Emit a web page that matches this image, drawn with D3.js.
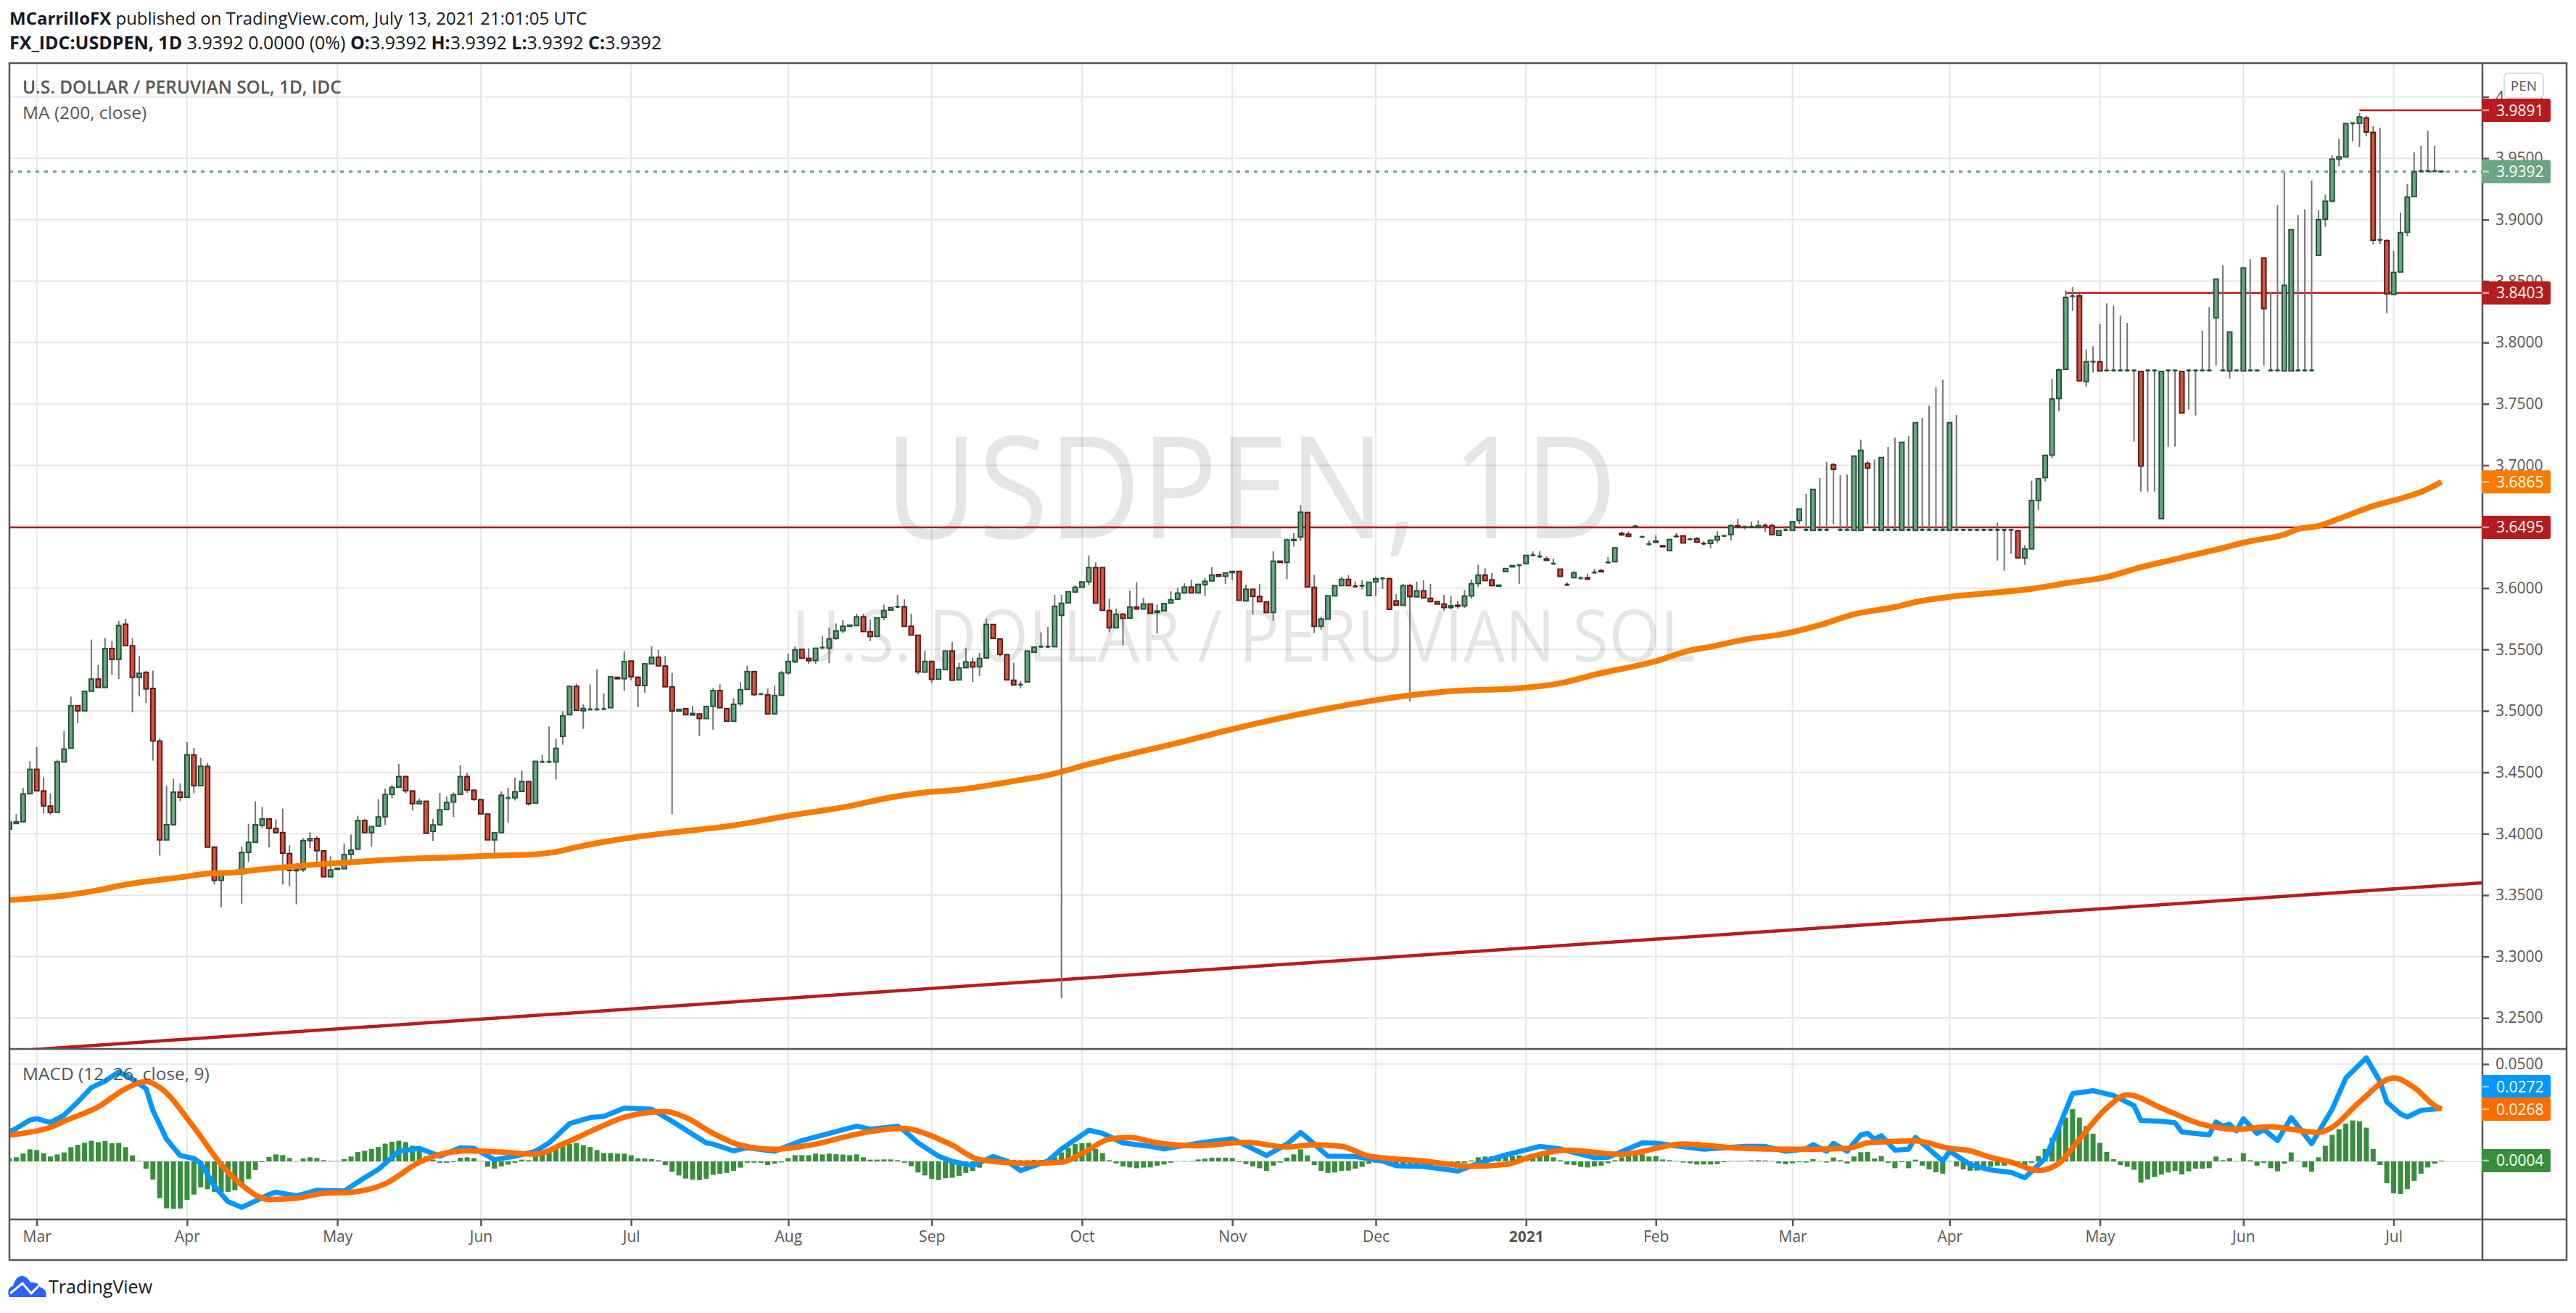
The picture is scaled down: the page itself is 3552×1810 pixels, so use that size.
<!DOCTYPE html>
<html>
<head>
<meta charset="utf-8">
<style>
  body { margin: 0; background: #fff; }
  text { font-family: "Open Sans", sans-serif; }
</style>
<script src="https://cdnjs.cloudflare.com/ajax/libs/d3/7.8.5/d3.min.js"></script>
</head>
<body>
<svg id="chart"></svg>
<script>
// daily bars
let opens = [
3.4038,3.4083,3.4097,3.4326,3.4524,3.4348,3.4225,3.4174,3.4585,3.4697,
3.5042,3.5001,3.5161,3.5259,3.5191,3.5508,3.5420,3.5706,3.5530,3.5273,
3.5314,3.5183,3.4754,3.3950,3.4073,3.4338,3.4297,3.4642,3.4391,3.4548,
3.3891,3.3620,3.3689,3.3680,3.3674,3.3848,3.3930,3.4068,3.4120,3.4042,
3.4009,3.3838,3.3699,3.3709,3.3944,3.3960,3.3860,3.3650,3.3711,3.3715,
3.3832,3.3874,3.4107,3.4009,3.4062,3.4138,3.4320,3.4379,3.4465,3.4348,
3.4244,3.4264,3.4019,3.4073,3.4197,3.4258,3.4320,3.4465,3.4354,3.4277,
3.4160,3.3950,3.4009,3.4285,3.4293,3.4344,3.4424,3.4250,3.4580,3.4580,
3.4585,3.4793,3.4969,3.5200,3.5001,3.5008,3.5008,3.5012,3.5026,3.5273,
3.5262,3.5406,3.5273,3.5207,3.5383,3.5436,3.5365,3.5195,3.4999,3.5018,
3.4967,3.4975,3.4938,3.5038,3.5165,3.5019,3.4916,3.5058,3.5176,3.5320,
3.5131,3.5131,3.4976,3.5127,3.5310,3.5400,3.5500,3.5427,3.5411,3.5511,
3.5511,3.5590,3.5653,3.5689,3.5695,3.5766,3.5645,3.5608,3.5762,3.5821,
3.5842,3.5848,3.5689,3.5616,3.5316,3.5403,3.5259,3.5336,3.5488,3.5253,
3.5352,3.5397,3.5360,3.5431,3.5704,3.5586,3.5458,3.5250,3.5208,3.5236,
3.5478,3.5520,3.5520,3.5523,3.5778,3.5880,3.5968,3.6008,3.6051,3.6167,
3.6167,3.5817,3.5677,3.5787,3.5756,3.5846,3.5830,3.5870,3.5801,3.5815,
3.5878,3.5910,3.5961,3.6008,3.5961,3.6028,3.6059,3.6110,3.6096,3.6126,
3.6136,3.5896,3.5990,3.5931,3.5888,3.5801,3.6219,3.6209,3.6388,3.6416,
3.6615,3.6006,3.5689,3.5748,3.5937,3.6020,3.6071,3.6020,3.6015,3.5939,
3.6051,3.6075,3.6077,3.5896,3.5860,3.6020,3.5929,3.5978,3.5917,3.5890,
3.5870,3.5842,3.5860,3.5856,3.5937,3.6037,3.6106,3.6067,3.6016,3.6134,
3.6173,3.6181,3.6199,3.6262,3.6252,3.6238,3.6195,3.6154,3.6031,3.6085,
3.6077,3.6085,3.6123,3.6141,3.6205,3.6215,3.6445,3.6439,3.6497,3.6413,
3.6354,3.6372,3.6345,3.6305,3.6427,3.6425,3.6394,3.6402,3.6368,3.6364,
3.6392,3.6421,3.6435,3.6508,3.6495,3.6495,3.6494,3.6512,3.6508,3.6429,
3.6469,3.6470,3.6551,3.6470,3.6470,3.6470,3.6470,3.7004,3.6470,3.6470,
3.6470,3.6470,3.7016,3.6470,3.6470,3.6470,3.6470,3.6470,3.6470,3.6470,
3.6470,3.6470,3.6470,3.6470,3.6470,3.6470,3.6470,3.6470,3.6470,3.6470,
3.6470,3.6470,3.6470,3.6470,3.6467,3.6246,3.6319,3.6713,3.6900,3.7083,
3.7544,3.7782,3.8371,3.8379,3.7682,3.7839,3.7843,3.7768,3.7768,3.7768,
3.7768,3.7768,3.7764,3.7768,3.7768,3.6565,3.7768,3.7768,3.7764,3.7768,
3.7768,3.7768,3.7768,3.8200,3.7768,3.7768,3.7768,3.7768,3.7768,3.7768,
3.8688,3.7768,3.7768,3.7768,3.7768,3.7768,3.7768,3.7768,3.8710,3.9003,
3.9150,3.9493,3.9511,3.9780,3.9785,3.9828,3.9710,3.8831,3.8829,3.8390,
3.8574,3.8898,3.9188,3.9389,3.9389,3.9389,3.9392]

let highs = [
3.4093,3.4158,3.4372,3.4589,3.4705,3.4460,3.4328,3.4603,3.4834,3.5116,
3.5042,3.5159,3.5581,3.5375,3.5593,3.5569,3.5734,3.5751,3.5593,3.5446,
3.5326,3.5328,3.4775,3.4391,3.4450,3.4410,3.4746,3.4699,3.4616,3.4577,
3.3891,3.3700,3.3689,3.3695,3.3897,3.4081,3.4264,3.4220,3.4120,3.4117,
3.4205,3.3905,3.3764,3.3964,3.4011,3.3980,3.3860,3.3817,3.3725,3.3920,
3.3993,3.4146,3.4120,3.4058,3.4281,3.4367,3.4397,3.4567,3.4473,3.4348,
3.4287,3.4264,3.4120,3.4332,3.4303,3.4336,3.4558,3.4493,3.4362,3.4277,
3.4160,3.4007,3.4344,3.4375,3.4458,3.4514,3.4424,3.4589,3.4642,3.4873,
3.4773,3.4999,3.5200,3.5220,3.5054,3.5216,3.5338,3.5142,3.5285,3.5273,
3.5487,3.5406,3.5283,3.5391,3.5528,3.5498,3.5446,3.5310,3.5013,3.5018,
3.5040,3.4975,3.5036,3.5187,3.5216,3.5019,3.5104,3.5236,3.5368,3.5320,
3.5137,3.5182,3.5206,3.5325,3.5466,3.5525,3.5505,3.5511,3.5515,3.5610,
3.5679,3.5712,3.5738,3.5698,3.5791,3.5791,3.5744,3.5758,3.5866,3.5841,
3.5945,3.5909,3.5791,3.5616,3.5492,3.5403,3.5338,3.5488,3.5560,3.5393,
3.5511,3.5433,3.5472,3.5752,3.5704,3.5586,3.5458,3.5393,3.5245,3.5488,
3.5519,3.5639,3.5685,3.5945,3.5945,3.5970,3.6024,3.6050,3.6266,3.6210,
3.6167,3.5915,3.5833,3.5797,3.5980,3.6047,3.5921,3.5870,3.5866,3.5874,
3.5974,3.6004,3.6040,3.6067,3.6030,3.6083,3.6171,3.6110,3.6124,3.6136,
3.6136,3.6028,3.5990,3.6033,3.5888,3.6300,3.6219,3.6404,3.6447,3.6674,
3.6615,3.6108,3.5768,3.5937,3.6020,3.6093,3.6106,3.6053,3.6063,3.6047,
3.6093,3.6087,3.6077,3.5950,3.6034,3.6034,3.6053,3.6063,3.6033,3.5890,
3.5945,3.5935,3.5895,3.5984,3.6069,3.6190,3.6161,3.6122,3.6024,3.6159,
3.6183,3.6187,3.6266,3.6299,3.6299,3.6260,3.6240,3.6154,3.6049,3.6138,
3.6095,3.6116,3.6157,3.6157,3.6254,3.6335,3.6461,3.6461,3.6512,3.6417,
3.6388,3.6431,3.6351,3.6396,3.6447,3.6425,3.6398,3.6417,3.6381,3.6390,
3.6463,3.6425,3.6520,3.6565,3.6499,3.6541,3.6551,3.6525,3.6525,3.6467,
3.6506,3.6541,3.6644,3.6766,3.6803,3.6896,3.7028,3.7020,3.6919,3.6925,
3.7075,3.7209,3.7037,3.7047,3.7063,3.7150,3.7225,3.7187,3.7238,3.7347,
3.7386,3.7486,3.7634,3.7697,3.7347,3.7410,3.6474,3.6474,3.6474,3.6474,
3.6474,3.6535,3.6474,3.6474,3.6467,3.6350,3.6874,3.6890,3.7081,3.7703,
3.7787,3.8422,3.8450,3.8397,3.7943,3.7969,3.8150,3.8318,3.8300,3.8219,
3.8160,3.7772,3.7764,3.7772,3.7772,3.7764,3.7772,3.7772,3.7764,3.7772,
3.7772,3.8095,3.8288,3.8516,3.8627,3.8085,3.7772,3.8607,3.8678,3.7772,
3.8688,3.8410,3.9117,3.9387,3.8918,3.9040,3.9085,3.9318,3.9076,3.9204,
3.9523,3.9660,3.9782,3.9785,3.9867,3.9848,3.9760,3.9749,3.8841,3.8747,
3.9056,3.9288,3.9548,3.9601,3.9725,3.9601,3.9395]

let lows = [
3.4038,3.4079,3.4097,3.4326,3.4350,3.4166,3.4152,3.4174,3.4585,3.4697,
3.4901,3.5001,3.5161,3.5191,3.5191,3.5295,3.5259,3.5532,3.4989,3.5118,
3.5065,3.4595,3.3822,3.3950,3.4073,3.4264,3.4297,3.4328,3.4391,3.3891,
3.3587,3.3401,3.3682,3.3672,3.3430,3.3770,3.3930,3.4046,3.3889,3.4009,
3.3587,3.3572,3.3425,3.3689,3.3881,3.3734,3.3650,3.3650,3.3705,3.3715,
3.3770,3.3874,3.4009,3.3895,3.4062,3.4070,3.4289,3.4379,3.4330,3.4189,
3.4244,3.4003,3.3942,3.4073,3.4197,3.4136,3.4320,3.4332,3.4266,3.4162,
3.3950,3.3807,3.4009,3.4089,3.4271,3.4344,3.4230,3.4250,3.4580,3.4580,
3.4442,3.4724,3.4969,3.5005,3.4854,3.5008,3.5008,3.5012,3.5026,3.5262,
3.5165,3.5248,3.5030,3.5148,3.5383,3.5367,3.5197,3.4160,3.4999,3.4969,
3.4967,3.4795,3.4938,3.4848,3.5026,3.4916,3.4916,3.5039,3.5176,3.5121,
3.5131,3.4976,3.4976,3.5127,3.5295,3.5389,3.5429,3.5383,3.5383,3.5511,
3.5390,3.5580,3.5634,3.5689,3.5695,3.5647,3.5567,3.5608,3.5738,3.5821,
3.5842,3.5689,3.5618,3.5298,3.5316,3.5226,3.5259,3.5336,3.5250,3.5253,
3.5352,3.5236,3.5285,3.5431,3.5590,3.5442,3.5253,3.5212,3.5182,3.5236,
3.5478,3.5520,3.5520,3.5523,3.2663,3.5880,3.5968,3.6008,3.6023,3.5878,
3.5819,3.5640,3.5677,3.5537,3.5756,3.5830,3.5830,3.5795,3.5630,3.5815,
3.5878,3.5910,3.5961,3.5961,3.5961,3.5935,3.6059,3.6096,3.6034,3.6063,
3.5901,3.5896,3.5787,3.5890,3.5801,3.5734,3.6209,3.6073,3.6339,3.6384,
3.6010,3.5634,3.5660,3.5748,3.5937,3.6020,3.6020,3.6014,3.5990,3.5939,
3.5935,3.5994,3.5827,3.5862,3.5860,3.5078,3.5929,3.5921,3.5890,3.5870,
3.5817,3.5827,3.5832,3.5837,3.5915,3.6010,3.6061,3.6020,3.6016,3.6134,
3.6173,3.6035,3.6199,3.6262,3.6245,3.6226,3.6195,3.6096,3.6027,3.6085,
3.6077,3.6073,3.6123,3.6133,3.6205,3.6215,3.6433,3.6421,3.6497,3.6413,
3.6346,3.6368,3.6337,3.6305,3.6421,3.6368,3.6394,3.6368,3.6362,3.6325,
3.6368,3.6421,3.6388,3.6500,3.6477,3.6495,3.6486,3.6457,3.6435,3.6429,
3.6469,3.6470,3.6520,3.6465,3.6470,3.6470,3.6470,3.6520,3.6470,3.6470,
3.6470,3.6470,3.6520,3.6470,3.6470,3.6470,3.6470,3.6470,3.6470,3.6470,
3.6470,3.6470,3.6470,3.6470,3.6470,3.6470,3.6470,3.6470,3.6470,3.6470,
3.6470,3.6224,3.6142,3.6280,3.6246,3.6189,3.6319,3.6638,3.6868,3.7057,
3.7441,3.7782,3.8257,3.7688,3.7642,3.7756,3.7768,3.7768,3.7768,3.7768,
3.7768,3.7193,3.6786,3.6786,3.6786,3.6565,3.7152,3.7152,3.7426,3.7453,
3.7406,3.7768,3.7768,3.7812,3.7768,3.7707,3.7768,3.7768,3.7768,3.7768,
3.7812,3.7768,3.7768,3.7768,3.7768,3.7768,3.7768,3.7768,3.8710,3.8942,
3.9150,3.9436,3.9511,3.9637,3.9591,3.9680,3.8800,3.8800,3.8239,3.8390,
3.8574,3.8865,3.9188,3.9389,3.9389,3.9389,3.9392]

let closes = [
3.4093,3.4097,3.4324,3.4524,3.4350,3.4227,3.4174,3.4585,3.4689,3.5042,
3.5001,3.5159,3.5259,3.5191,3.5508,3.5420,3.5695,3.5532,3.5273,3.5306,
3.5179,3.4756,3.3950,3.4073,3.4338,3.4297,3.4642,3.4391,3.4550,3.3891,
3.3620,3.3689,3.3682,3.3672,3.3848,3.3930,3.4073,3.4120,3.4044,3.4009,
3.3842,3.3701,3.3710,3.3944,3.3960,3.3862,3.3650,3.3705,3.3719,3.3830,
3.3866,3.4107,3.4009,3.4058,3.4136,3.4319,3.4377,3.4465,3.4350,3.4244,
3.4264,3.4003,3.4071,3.4195,3.4254,3.4317,3.4465,3.4356,3.4280,3.4162,
3.3950,3.4007,3.4313,3.4291,3.4342,3.4424,3.4244,3.4589,3.4585,3.4585,
3.4695,3.4960,3.5200,3.5005,3.5020,3.5012,3.5012,3.5016,3.5277,3.5262,
3.5402,3.5279,3.5207,3.5383,3.5436,3.5367,3.5197,3.4999,3.5013,3.4969,
3.4979,3.4938,3.5036,3.5165,3.5026,3.4916,3.5054,3.5173,3.5320,3.5133,
3.5137,3.4976,3.5125,3.5309,3.5403,3.5498,3.5429,3.5409,3.5510,3.5515,
3.5586,3.5651,3.5689,3.5698,3.5766,3.5647,3.5606,3.5758,3.5817,3.5841,
3.5848,3.5689,3.5618,3.5318,3.5403,3.5257,3.5338,3.5488,3.5250,3.5350,
3.5399,3.5358,3.5427,3.5704,3.5590,3.5460,3.5253,3.5212,3.5214,3.5488,
3.5519,3.5523,3.5523,3.5852,3.5876,3.5970,3.6006,3.6050,3.6167,3.5878,
3.5819,3.5677,3.5787,3.5754,3.5846,3.5830,3.5870,3.5795,3.5813,3.5874,
3.5905,3.5959,3.6008,3.5961,3.6030,3.6055,3.6106,3.6096,3.6124,3.6136,
3.5901,3.5990,3.5933,3.5890,3.5801,3.6219,3.6209,3.6392,3.6396,3.6617,
3.6010,3.5689,3.5748,3.5937,3.6020,3.6071,3.6020,3.6014,3.6019,3.6047,
3.6075,3.6079,3.5827,3.5862,3.6020,3.5931,3.5978,3.5921,3.5890,3.5870,
3.5842,3.5856,3.5852,3.5935,3.6035,3.6106,3.6061,3.6020,3.6024,3.6159,
3.6183,3.6187,3.6266,3.6268,3.6258,3.6226,3.6199,3.6096,3.6027,3.6124,
3.6081,3.6073,3.6127,3.6133,3.6209,3.6327,3.6433,3.6421,3.6503,3.6417,
3.6358,3.6384,3.6337,3.6396,3.6421,3.6368,3.6398,3.6374,3.6362,3.6390,
3.6420,3.6425,3.6508,3.6500,3.6499,3.6499,3.6508,3.6508,3.6435,3.6467,
3.6473,3.6541,3.6644,3.6474,3.6803,3.6474,3.6474,3.6967,3.6474,3.6474,
3.7075,3.7122,3.6977,3.6474,3.7063,3.6474,3.6474,3.7187,3.6474,3.7347,
3.6474,3.6474,3.6474,3.6474,3.7347,3.6474,3.6474,3.6474,3.6474,3.6474,
3.6474,3.6474,3.6474,3.6474,3.6246,3.6319,3.6713,3.6890,3.7081,3.7540,
3.7776,3.8367,3.8377,3.7688,3.7843,3.7843,3.7768,3.7772,3.7772,3.7772,
3.7772,3.7772,3.6994,3.7772,3.7772,3.7764,3.7772,3.7772,3.7426,3.7772,
3.7772,3.7772,3.7772,3.8516,3.7772,3.8085,3.7772,3.8607,3.7772,3.7772,
3.8276,3.7772,3.7772,3.8465,3.8918,3.7772,3.7772,3.7772,3.9000,3.9150,
3.9493,3.9511,3.9782,3.9785,3.9836,3.9714,3.8833,3.8835,3.8396,3.8570,
3.8894,3.9184,3.9391,3.9395,3.9395,3.9395,3.9392]

// moving average, sampled along the line
let maBars = [0,5,9,13,17,21,25,29,33,37,41,45,49,54,60,64,69,76,80,83,90,97,105,115,122,129,133,139,148,152,158,166,172,179,186,193,200,205,211,221,227,232,241,246,249,254,260,265,270,276,279,284,290,296,301,307,312,317,322,328,333,335,338,341,346,350,353,356]
let maValues = [3.346,3.348,3.3504,3.354,3.3586,3.3618,3.3645,3.3675,3.3685,3.3711,3.373,3.375,3.3764,3.3783,3.3799,3.3805,3.3819,3.3829,3.3852,3.389,3.396,3.401,3.406,3.4155,3.4215,3.4296,3.433,3.4359,3.4438,3.4477,3.4566,3.4674,3.4753,3.4851,3.494,3.5019,3.5088,3.5127,3.5161,3.5185,3.5225,3.5295,3.5405,3.5492,3.5522,3.5581,3.563,3.5699,3.5787,3.5846,3.5886,3.5929,3.596,3.5994,3.604,3.609,3.617,3.6235,3.630,3.6382,3.6437,3.648,3.6506,3.6565,3.6668,3.6729,3.6782,3.6865]

let macdBars = [0,1,3,4,6,8,10,12,14,16,18,20,21,23,25,27,28,30,32,34,35,38,39,42,45,49,52,54,57,60,63,66,68,71,74,77,79,82,85,87,90,94,97,102,103,106,108,112,116,120,124,126,130,131,133,136,138,141,144,146,148,152,154,158,160,163,167,169,175,179,184,187,189,190,193,197,201,203,207,212,215,219,224,227,232,234,239,241,248,254,257,260,263,264,266,267,269,271,272,273,274,276,278,279,283,284,287,290,293,295,298,300,302,305,308,311,312,315,317,318,322,323,324,325,326,327,329,330,332,334,337,340,342,345,347,348,350,351,353,356]
let macdValues = [.0151,.0169,.0212,.0219,.0200,.0237,.0305,.0379,.0412,.0459,.0422,.0373,.0262,.0114,.0030,.0015,-.0010,-.0127,-.0207,-.0236,-.0220,-.0170,-.0158,-.0177,-.0148,-.0152,-.0084,-.0041,.0052,.0067,.0027,.0070,.0067,.0009,.0027,.0052,.0095,.0194,.0225,.0231,.0274,.0268,.0206,.0095,.0089,.0054,.0070,.0052,.0107,.0144,.0181,.0165,.0181,.0157,.0095,.0027,0,-.0022,.0025,.0002,-.0047,.0002,.0064,.0160,.0144,.0095,.0077,.0064,.0099,.0116,.0030,.0089,.0148,.0120,.0027,.0025,.0002,-.0022,-.0026,-.0049,-.0010,.0033,.0077,.0064,.0019,.0021,.0095,.0093,.0062,.0077,.0077,.0052,.0064,.0086,.0052,.0093,.0052,.0136,.0144,.0114,.0132,.0058,.0062,.0123,.0002,.0052,-.0016,-.0044,-.0057,-.0084,.0015,.0175,.0348,.0363,.0338,.0286,.0210,.0206,.0198,.0151,.0136,.0202,.0181,.0190,.0157,.0219,.0144,.0163,.0107,.0225,.0091,.0268,.0428,.0531,.0410,.0305,.0243,.0228,.0262,.0272]

let signalBars = [0,2,6,8,13,17,20,22,27,31,34,38,42,46,50,55,60,63,67,72,77,81,86,90,96,99,103,107,112,118,123,126,131,134,138,142,149,154,157,161,164,168,174,181,187,191,195,199,207,214,219,223,228,236,245,253,261,269,272,275,279,284,287,290,293,297,300,303,307,310,315,321,326,331,334,338,340,344,349,352,355,356]
let signalValues = [.0135,.0144,.0175,.0206,.0280,.0373,.0410,.0379,.0175,-.0016,-.0121,-.0195,-.0189,-.0164,-.0158,-.0115,-.0004,.0036,.0054,.0048,.0037,.0089,.0169,.0227,.0256,.0225,.0144,.0083,.0062,.0089,.0132,.0153,.0169,.0144,.0083,.0009,-.0010,-.0004,.0040,.0114,.0123,.0095,.0080,.0098,.0074,.0085,.0077,.0027,.0002,-.0025,-.0016,.0027,.0058,.0036,.0089,.0068,.0062,.0067,.0095,.0101,.0105,.0067,.0054,.0021,-.0004,-.0047,-.0010,.0114,.0274,.0342,.0274,.0190,.0165,.0178,.0165,.0148,.0175,.0305,.0428,.0379,.0286,.0268]

let histogram = [
.0015,.0021,.0040,.0062,.0058,.0042,.0025,.0036,.0046,.0073,
.0085,.0095,.0106,.0099,.0105,.0093,.0095,.0073,.0031,.0002,
-.0038,-.0093,-.0189,-.0241,-.0244,-.0242,-.0198,-.0170,-.0133,-.0143,
-.0156,-.0158,-.0156,-.0148,-.0127,-.0090,-.0044,-.0004,.0023,.0036,
.0032,.0017,.0002,.0015,.0021,.0017,.0006,.0002,.0002,.0012,
.0025,.0048,.0054,.0064,.0074,.0091,.0101,.0106,.0099,.0080,
.0062,.0027,.0009,-.0007,-.0007,-.0004,.0019,.0021,.0017,.0002,
-.0028,-.0037,-.0026,-.0017,-.0007,.0009,.0006,.0027,.0033,.0052,
.0062,.0077,.0089,.0095,.0083,.0074,.0058,.0043,.0043,.0040,
.0040,.0031,.0016,.0015,.0012,.0006,-.0019,-.0053,-.0072,-.0088,
-.0094,-.0096,-.0090,-.0069,-.0064,-.0059,-.0049,-.0032,-.0007,-.0007,
-.0007,-.0019,-.0012,-.0005,.0017,.0032,.0032,.0032,.0040,.0036,
.0040,.0037,.0035,.0032,.0036,.0021,.0009,.0009,.0010,.0010,
.0006,-.0007,-.0025,-.0057,-.0072,-.0090,-.0096,-.0086,-.0084,-.0074,
-.0059,-.0049,-.0032,-.0007,-.0004,.0002,.0007,.0007,.0006,.0006,
.0007,.0007,.0010,.0021,.0046,.0070,.0089,.0093,.0095,.0064,
.0043,.0006,-.0010,-.0026,-.0031,-.0035,-.0032,-.0031,-.0022,-.0016,
-.0007,.0001,.0002,.0002,.0010,.0014,.0019,.0019,.0019,.0017,
-.0004,-.0014,-.0026,-.0035,-.0049,-.0022,-.0006,.0019,.0036,.0062,
.0031,-.0019,-.0049,-.0059,-.0057,-.0049,-.0047,-.0037,-.0028,-.0012,
-.0007,.0002,-.0022,-.0025,-.0022,-.0020,-.0019,-.0022,-.0022,-.0019,
-.0010,-.0010,-.0010,-.0007,.0005,.0021,.0025,.0027,.0025,.0027,
.0027,.0031,.0027,.0037,.0033,.0040,.0021,.0006,-.0016,-.0019,
-.0028,-.0031,-.0026,-.0022,-.0010,.0006,.0021,.0033,.0033,.0036,
.0025,.0027,.0010,.0006,.0002,-.0006,-.0010,-.0016,-.0016,-.0016,
-.0014,-.0004,.0002,.0002,.0002,.0005,.0006,.0005,.0002,-.0010,
-.0015,-.0010,-.0004,-.0006,.0012,.0002,-.0006,.0020,.0006,-.0011,
.0025,.0047,.0049,.0015,.0027,-.0007,-.0035,-.0004,-.0035,.0009,
-.0022,-.0041,-.0056,-.0063,.0002,-.0026,-.0041,-.0048,-.0047,-.0035,
-.0028,-.0022,-.0022,.0002,-.0022,-.0020,-.0007,.0027,.0064,.0120,
.0169,.0225,.0268,.0225,.0181,.0142,.0095,.0049,.0012,-.0019,
-.0028,-.0043,-.0109,-.0093,-.0080,-.0068,-.0057,-.0049,-.0067,-.0051,
-.0037,-.0037,-.0035,.0025,.0006,.0017,.0002,.0042,.0006,-.0022,
-.0007,-.0035,-.0051,-.0012,.0046,.0002,-.0031,-.0053,.0021,.0080,
.0136,.0165,.0194,.0210,.0206,.0173,.0064,-.0019,-.0112,-.0164,
-.0168,-.0142,-.0100,-.0063,-.0031,-.0012,.0004]

// axis ticks
let monthBars = [4,26,48,69,91,114,135,157,179,200,222,241,261,284,306,327,349]
let monthLabels = ["Mar","Apr","May","Jun","Jul","Aug","Sep","Oct","Nov","Dec","2021","Feb","Mar","Apr","May","Jun","Jul"]
let priceTicks = [3.25,3.30,3.35,3.40,3.45,3.50,3.55,3.60,3.65,3.70,3.75,3.80,3.85,3.90,3.95,4.00]
let macdTicks = [0,0.05]

// drawn levels and the rising trend line
let levelValues = [3.6495,3.8403,3.9891]
let levelStartBars = [null,301,344]
let trendBars = [0,362]
let trendValues = [3.2229,3.36]
let lastPrice = 3.9392

// price tags on the right axis
let tagValues = [3.9891,3.9392,3.8403,3.6865,3.6495]
let tagColors = ["#b71c1c","#6ba583","#b71c1c","#f57c00","#b71c1c"]
let macdTagValues = [0.0272,0.0268,0.0004]
let macdTagColors = ["#0496ff","#ff6d00","#388e3c"]

function drawChart() {
    if (opens.length != 357 || highs.length != 357 || lows.length != 357 || closes.length != 357 || histogram.length != 357)
        throw new Error("bar counts " + [opens.length, highs.length, lows.length, closes.length, histogram.length])

    let width = 3552
    let height = 1810
    let left = 13
    let top = 87
    let axisX = 3423
    let outerRight = 3539
    let paneSplit = 1446
    let macdBottom = 1681
    let outerBottom = 1737
    let border = "#555555"
    let grid = "#e6e6e6"
    let textColor = "#555555"

    let chart = d3.select("#chart").attr("width", width).attr("height", height).style("display", "block")

    let xscale = d3.scaleLinear().domain([0, 356]).range([13, 3366.5])
    let yscale = d3.scaleLinear().domain([3.6, 3.9]).range([810.7, 302.8])
    let macdScale = d3.scaleLinear().domain([0, 0.05]).range([1601, 1466.7])

    chart.append("defs").append("clipPath").attr("id", "mainClip")
        .append("rect").attr("x", left).attr("y", top).attr("width", axisX - left).attr("height", paneSplit - top)
    chart.select("defs").append("clipPath").attr("id", "macdClip")
        .append("rect").attr("x", left).attr("y", paneSplit).attr("width", axisX - left).attr("height", macdBottom - paneSplit)

    // grid
    let gridG = chart.append("g")
    gridG.selectAll("line.v").data(monthBars).enter().append("line")
        .attr("x1", d => xscale(d)).attr("x2", d => xscale(d))
        .attr("y1", top).attr("y2", macdBottom)
        .attr("stroke", grid).attr("stroke-width", 2)
    gridG.selectAll("line.h").data(priceTicks).enter().append("line")
        .attr("x1", left).attr("x2", axisX)
        .attr("y1", d => yscale(d)).attr("y2", d => yscale(d))
        .attr("stroke", grid).attr("stroke-width", 2)
    gridG.selectAll("line.m").data(macdTicks).enter().append("line")
        .attr("x1", left).attr("x2", axisX)
        .attr("y1", d => macdScale(d)).attr("y2", d => macdScale(d))
        .attr("stroke", grid).attr("stroke-width", 2)

    // watermark
    chart.append("text").attr("x", 1220).attr("y", 742)
        .attr("textLength", 1010).attr("lengthAdjust", "spacingAndGlyphs")
        .style("font-size", "196px").style("fill", "rgba(0,0,0,0.1)").text("USDPEN, 1D")
    chart.append("text").attr("x", 1092).attr("y", 912)
        .attr("textLength", 1245).attr("lengthAdjust", "spacingAndGlyphs")
        .style("font-size", "98px").style("fill", "rgba(0,0,0,0.1)").text("U.S. DOLLAR / PERUVIAN SOL")

    let main = chart.append("g").attr("clip-path", "url(#mainClip)")
    let macd = chart.append("g").attr("clip-path", "url(#macdClip)")

    // levels behind the candles
    main.selectAll("line.level").data(levelValues).enter().append("line")
        .attr("x1", (d, i) => levelStartBars[i] == null ? left : xscale(levelStartBars[i]))
        .attr("x2", axisX)
        .attr("y1", d => yscale(d)).attr("y2", d => yscale(d))
        .attr("stroke", "#b71c1c").attr("stroke-width", 2.5)
    main.append("line")
        .attr("x1", left).attr("x2", axisX)
        .attr("y1", yscale(lastPrice)).attr("y2", yscale(lastPrice))
        .attr("stroke", "#6ba583").attr("stroke-width", 3).attr("stroke-dasharray", "5 7")
    main.append("line")
        .attr("x1", xscale(trendBars[0])).attr("x2", xscale(trendBars[1]))
        .attr("y1", yscale(trendValues[0])).attr("y2", yscale(trendValues[1]))
        .attr("stroke", "#b71c1c").attr("stroke-width", 4.5)

    // candles
    let bars = d3.range(opens.length)
    let upColor = d => closes[d] >= opens[d]
    let bodyHeight = d => Math.abs(yscale(opens[d]) - yscale(closes[d]))
    main.selectAll("line.wick").data(bars).enter().append("line")
        .attr("x1", d => xscale(d)).attr("x2", d => xscale(d))
        .attr("y1", d => yscale(highs[d])).attr("y2", d => yscale(lows[d]))
        .attr("stroke", "#737375").attr("stroke-width", 2)
    main.selectAll("rect.body").data(bars.filter(d => bodyHeight(d) >= 1.1)).enter().append("rect")
        .attr("x", d => xscale(d) - 3)
        .attr("width", 6)
        .attr("y", d => yscale(Math.max(opens[d], closes[d])))
        .attr("height", bodyHeight)
        .attr("fill", d => upColor(d) ? "#6ba583" : "#d75442")
        .attr("stroke", d => upColor(d) ? "#225437" : "#5b1a13")
        .attr("stroke-width", 2)
    // flat days: a thin dash with a small dark centre
    let flat = bars.filter(d => bodyHeight(d) < 1.1)
    main.selectAll("rect.dash").data(flat).enter().append("rect")
        .attr("x", d => xscale(d) - 4)
        .attr("width", 8)
        .attr("y", d => yscale(closes[d]) - 0.5)
        .attr("height", 1)
        .attr("fill", d => upColor(d) ? "#225437" : "#5b1a13")
    main.selectAll("rect.dot").data(flat).enter().append("rect")
        .attr("x", d => xscale(d) - 2.5)
        .attr("width", 5)
        .attr("y", d => yscale(closes[d]) - 1.5)
        .attr("height", 3)
        .attr("fill", d => upColor(d) ? "#225437" : "#5b1a13")

    // moving average
    let maLine = d3.line().curve(d3.curveMonotoneX).x(d => xscale(d[0])).y(d => yscale(d[1]))
    main.append("path").datum(d3.zip(maBars, maValues))
        .attr("d", maLine).attr("fill", "none")
        .attr("stroke", "#f57c00").attr("stroke-width", 8).attr("stroke-linejoin", "round")

    // MACD pane
    macd.selectAll("rect").data(histogram).enter().append("rect")
        .attr("x", (d, i) => xscale(i) - 3.5)
        .attr("width", 7)
        .attr("y", d => d > 0 ? macdScale(d) : macdScale(0))
        .attr("height", d => Math.abs(macdScale(d) - macdScale(0)))
        .attr("fill", "#388e3c")
    let macdLine = d3.line().x(d => xscale(d[0])).y(d => macdScale(d[1]))
    macd.append("path").datum(d3.zip(macdBars, macdValues))
        .attr("d", macdLine).attr("fill", "none")
        .attr("stroke", "#0496ff").attr("stroke-width", 7).attr("stroke-linejoin", "round")
    macd.append("path").datum(d3.zip(signalBars, signalValues))
        .attr("d", macdLine.curve(d3.curveMonotoneX)).attr("fill", "none")
        .attr("stroke", "#ff6d00").attr("stroke-width", 7.5).attr("stroke-linejoin", "round")

    // pane borders
    chart.append("rect").attr("x", left).attr("y", top)
        .attr("width", outerRight - left).attr("height", outerBottom - top)
        .attr("fill", "none").attr("stroke", border).attr("stroke-width", 2.5)
    chart.append("line").attr("x1", left).attr("x2", outerRight)
        .attr("y1", paneSplit).attr("y2", paneSplit).attr("stroke", border).attr("stroke-width", 2.5)
    chart.append("line").attr("x1", left).attr("x2", outerRight)
        .attr("y1", macdBottom).attr("y2", macdBottom).attr("stroke", border).attr("stroke-width", 2.5)
    chart.append("line").attr("x1", axisX).attr("x2", axisX)
        .attr("y1", top).attr("y2", outerBottom).attr("stroke", border).attr("stroke-width", 2.5)

    // axes
    let timeAxis = chart.append("g")
        .attr("transform", "translate(0," + macdBottom + ")")
        .call(d3.axisBottom(xscale).tickValues(monthBars).tickSize(9).tickPadding(7)
            .tickFormat((d, i) => monthLabels[i]))
    let priceAxis = chart.append("g")
        .attr("transform", "translate(" + axisX + ",0)")
        .call(d3.axisRight(yscale).tickValues(priceTicks).tickSize(9).tickPadding(9)
            .tickFormat(d3.format(".4f")))
    let macdAxis = chart.append("g")
        .attr("transform", "translate(" + axisX + ",0)")
        .call(d3.axisRight(macdScale).tickValues(macdTicks).tickSize(9).tickPadding(9)
            .tickFormat(d3.format(".4f")))
    ;[timeAxis, priceAxis, macdAxis].forEach(a => {
        a.select(".domain").remove()
        a.selectAll("line").attr("stroke", border).attr("stroke-width", 2.5)
        a.selectAll("text").attr("fill", textColor)
            .style("font-family", '"Open Sans", sans-serif').style("font-size", "21px")
    })
    timeAxis.selectAll("text").filter(d => d == 222).style("font-weight", "700")

    // price tags
    function drawTag(y, color, label) {
        let g = chart.append("g").attr("transform", "translate(" + (axisX - 1) + "," + y + ")")
        g.append("path")
            .attr("d", "M0,-16H92a3,3 0 0 1 3,3V13a3,3 0 0 1 -3,3H0Z")
            .attr("fill", color)
        g.append("line").attr("x1", 1).attr("x2", 10).attr("stroke", "#fff")
            .attr("stroke-opacity", 0.6).attr("stroke-width", 2.5)
        g.append("text").attr("x", 20).attr("dy", "0.36em").attr("fill", "#fff")
            .style("font-size", "21px").text(label)
    }
    tagValues.forEach((v, i) => drawTag(yscale(v), tagColors[i], v.toFixed(4)))
    // the two close MACD tags are pushed apart so they do not cover each other
    macdTagValues.forEach((v, i) => drawTag(i == 0 ? macdScale(macdTagValues[1]) - 31 : macdScale(v), macdTagColors[i], v.toFixed(4)))

    // currency badge
    chart.append("rect").attr("x", 3453).attr("y", 101).attr("width", 54).attr("height", 34).attr("rx", 6)
        .attr("fill", "#fff").attr("stroke", "#d9dce3").attr("stroke-width", 2)
    chart.append("text").attr("x", 3480).attr("y", 118).attr("dy", "0.36em").attr("text-anchor", "middle")
        .attr("fill", textColor).style("font-size", "19px").text("PEN")

    // pane titles
    chart.append("text").attr("x", 31).attr("y", 120).attr("dy", "0.36em").attr("fill", textColor)
        .style("font-size", "24.4px").style("font-weight", "600").text("U.S. DOLLAR / PERUVIAN SOL, 1D, IDC")
    chart.append("text").attr("x", 31).attr("y", 155).attr("dy", "0.36em").attr("fill", textColor)
        .style("font-size", "24.5px").text("MA (200, close)")
    chart.append("text").attr("x", 31).attr("y", 1480).attr("dy", "0.36em").attr("fill", textColor)
        .style("font-size", "24.5px").text("MACD (12, 26, close, 9)")

    // header
    let head1 = chart.append("text").attr("x", 13).attr("y", 25).attr("dy", "0.36em")
        .attr("fill", "#131722").style("font-size", "24px")
    head1.append("tspan").style("font-weight", "700").text("MCarrilloFX")
    head1.append("tspan").text(" published on TradingView.com, July 13, 2021 21:01:05 UTC")
    let head2 = chart.append("text").attr("x", 13).attr("y", 59).attr("dy", "0.36em")
        .attr("fill", "#131722").style("font-size", "25px")
    head2.append("tspan").style("font-weight", "700").text("FX_IDC:USDPEN, 1D")
    head2.append("tspan").text("  3.9392 0.0000 (0%) ")
    head2.append("tspan").style("font-weight", "700").text("O:")
    head2.append("tspan").text("3.9392 ")
    head2.append("tspan").style("font-weight", "700").text("H:")
    head2.append("tspan").text("3.9392 ")
    head2.append("tspan").style("font-weight", "700").text("L:")
    head2.append("tspan").text("3.9392 ")
    head2.append("tspan").style("font-weight", "700").text("C:")
    head2.append("tspan").text("3.9392")

    // logo
    let logo = chart.append("g").attr("transform", "translate(11,1759)")
    logo.append("path")
        .attr("d", "M2,29C-2,22 1,15 7,14C9,6 13,0 19,0C25,0 28,4 31,9C38,8 43,11 45,16C51,17 54,23 52,29Z")
        .attr("fill", "#2962ff")
    logo.append("path")
        .attr("d", "M3,24L20,10L32,24L44,12")
        .attr("fill", "none").attr("stroke", "#fff").attr("stroke-width", 3)
    chart.append("text").attr("x", 67).attr("y", 1774).attr("dy", "0.36em")
        .attr("fill", "#131722").style("font-size", "25px").text("TradingView")
}

drawChart()
</script>
</body>
</html>
